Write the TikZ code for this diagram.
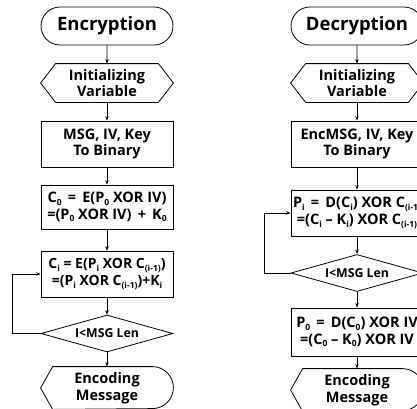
\documentclass[tikz,border=0pt]{standalone}
\usepackage{fontspec}
\setmainfont{Open Sans}
\usetikzlibrary{shapes.misc,shapes.geometric,arrows.meta}
% small lowered index, as in C0 or C(i-1)
\newcommand\lowsub[1]{\raisebox{-0.35ex}{\fontsize{8.5}{8.5}\selectfont #1}}
% hexagon outline around a rectangular node
\newcommand\hexoutline[1]{\draw ([xshift=15pt]#1.north west) -- ([xshift=-15pt]#1.north east) -- (#1.east) -- ([xshift=-15pt]#1.south east) -- ([xshift=15pt]#1.south west) -- (#1.west) -- cycle;}
% display outline: pointed left end, round right end
\newcommand\dispoutline[1]{\draw ([xshift=12pt]#1.north west) -- ([xshift=-21pt]#1.north east) arc[start angle=90, end angle=-90, radius=21pt] -- ([xshift=12pt]#1.south west) -- (#1.west) -- cycle;}
\begin{document}
\begin{tikzpicture}[x=1pt,y=-1pt, line width=0.8pt,
  every node/.style={align=center, inner sep=0pt, minimum width=132pt,
    font=\bfseries\fontsize{14.5}{16.5}\selectfont},
  termbox/.style={draw, rounded rectangle, minimum height=38pt,
    font=\bfseries\fontsize{18.5}{20}\selectfont},
  prepbox/.style={minimum height=38pt},
  procbox/.style={draw, rectangle, minimum height=46pt},
  decbox/.style={draw, diamond, aspect=3.6, minimum height=37pt,
    font=\bfseries\fontsize{12.3}{14}\selectfont},
  dispbox/.style={minimum height=42pt},
  flow/.style={-{Stealth[length=4.5pt,width=3.5pt]}, line width=0.7pt}]
\fill[white] (0,0) rectangle (417,408);
\useasboundingbox (0,0) rectangle (417,408);
\clip (0,0) rectangle (417,408);

% encryption flow
\node[termbox] (eterm) at (107,26) {Encryption};
\node[prepbox] (ehex) at (107,83) {Initializing\\Variable};
\node[procbox] (ebin) at (107,144) {MSG, IV, Key\\To Binary};
\node[procbox, minimum height=44pt] (efirst) at (107,207)
  {C\lowsub{0} \,=\, E(P\lowsub{0} XOR IV)\\=(P\lowsub{0} XOR IV) \,+\, K\lowsub{0}};
\node[procbox, font=\bfseries\fontsize{14}{16.5}\selectfont] (enext) at (107,274)
  {C\lowsub{i} = E(P\lowsub{i} XOR C\lowsub{(i-1)})\\=(P\lowsub{i} XOR C\lowsub{(i-1)})+K\lowsub{i}};
\node[decbox] (echeck) at (107,333.5) {I<MSG Len};
\node[dispbox] (eout) at (107,388) {Encoding\\Message};
\hexoutline{ehex}
\dispoutline{eout}
\coordinate (eloop) at (12,333.5);

\draw[flow] (eterm) -- (ehex);
\draw[flow] (ehex) -- (ebin);
\draw[flow] (ebin) -- (efirst);
\draw[flow] (efirst) -- (enext);
\draw[flow] (enext) -- (echeck);
\draw[flow] (echeck) -- (eout);
\draw[flow] (echeck.west) -- (eloop) |- (enext.west);

% decryption flow
\node[termbox] (dterm) at (357,26) {Decryption};
\node[prepbox] (dhex) at (357,83) {Initializing\\Variable};
\node[procbox] (dbin) at (357,144) {EncMSG, IV, Key\\To Binary};
\node[procbox] (dnext) at (357,213)
  {P\lowsub{i} \,=\, D(C\lowsub{i}) XOR C\lowsub{(i-1)}\\=(C\lowsub{i} -- K\lowsub{i}) XOR C\lowsub{(i-1)}};
\node[decbox] (dcheck) at (357,273) {I<MSG Len};
\node[procbox, minimum height=48pt] (dfirst) at (357,332)
  {P\lowsub{0} \,=\, D(C\lowsub{0}) XOR IV\\=(C\lowsub{0} -- K\lowsub{0}) XOR IV};
\node[dispbox] (dout) at (357,390) {Encoding\\Message};
\hexoutline{dhex}
\dispoutline{dout}
\coordinate (dloop) at (264,273);

\draw[flow] (dterm) -- (dhex);
\draw[flow] (dhex) -- (dbin);
\draw[flow] (dbin) -- (dnext);
\draw[flow] (dnext) -- (dcheck);
\draw[flow] (dcheck) -- (dfirst);
\draw[flow] (dfirst) -- (dout);
\draw[flow] (dcheck.west) -- (dloop) |- (dnext.west);
\end{tikzpicture}
\end{document}
